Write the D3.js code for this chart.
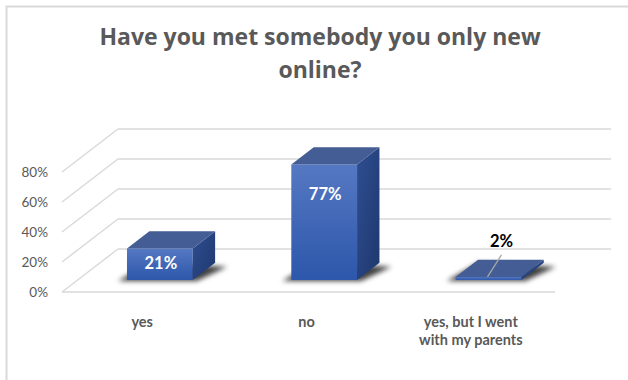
<!DOCTYPE html>
<html>
<head>
<meta charset="utf-8">
<script src="https://cdn.jsdelivr.net/npm/d3@7"></script>
<style>
  html, body { margin: 0; padding: 0; background: #fff; }
  svg { display: block; }
</style>
</head>
<body>
<svg id="chart" width="628" height="380"></svg>
<script>
// Survey answers and their shares (percent)
const categories = ["yes", "no", "yes, but I went with my parents"];
const values = [21, 77, 2];
const tickValues = [0, 20, 40, 60, 80];
const titleLines = ["Have you met somebody you only new", "online?"];

const svg = d3.select("#chart");
const textColor = "#595959";
const gridColor = "#d9d9d9";

// Outer frame
svg.append("path")
  .attr("d", "M6.5,380 L6.5,6.5 L628,6.5")
  .attr("fill", "none").attr("stroke", gridColor).attr("stroke-width", 2);

// Oblique 3D frame: front floor edge and depth vector
const x0 = 62, x1 = 555, y0 = 292;
const DX = 56, DY = 43;          // full depth offset (right, up)
const t0 = 0.28, t1 = 0.68;      // bar depth extent within the floor

const x = d3.scaleBand().domain(categories).range([x0, x1])
  .paddingInner(0.6).paddingOuter(0.3);
const y = d3.scaleLinear().domain([0, 80]).range([y0, y0 - 120]);

const defs = svg.append("defs");
const fg = defs.append("linearGradient").attr("id", "frontGrad")
  .attr("x1", 0).attr("y1", 0).attr("x2", 0).attr("y2", 1);
fg.append("stop").attr("offset", "0%").attr("stop-color", "#5578c2");
fg.append("stop").attr("offset", "100%").attr("stop-color", "#2d57ab");
const sg = defs.append("linearGradient").attr("id", "sideGrad")
  .attr("x1", 0).attr("y1", 0).attr("x2", 1).attr("y2", 1);
sg.append("stop").attr("offset", "0%").attr("stop-color", "#2f4f92");
sg.append("stop").attr("offset", "100%").attr("stop-color", "#1e376d");
defs.append("filter").attr("id", "soft")
  .attr("x", "-30%").attr("y", "-60%").attr("width", "160%").attr("height", "220%")
  .append("feGaussianBlur").attr("stdDeviation", 2.6);

// Grid: back wall lines, left wall diagonals, front floor edge
const grid = svg.append("g").attr("stroke", gridColor).attr("stroke-width", 1.4).attr("fill", "none");
grid.selectAll("line.back").data(tickValues).join("line")
  .attr("x1", x0 + DX).attr("x2", x1 + DX)
  .attr("y1", d => y(d) - DY).attr("y2", d => y(d) - DY);
grid.selectAll("line.side").data(tickValues).join("line")
  .attr("x1", x0).attr("y1", d => y(d))
  .attr("x2", x0 + DX).attr("y2", d => y(d) - DY);
grid.append("line").attr("x1", x0).attr("x2", x1).attr("y1", y0).attr("y2", y0);

// Value axis labels
svg.append("g").selectAll("text").data(tickValues).join("text")
  .attr("x", 48).attr("y", d => y(d) + 5)
  .attr("text-anchor", "end")
  .attr("font-family", "Lato, 'Open Sans', sans-serif")
  .attr("font-size", 13.5).attr("fill", textColor)
  .text(d => d + "%");

const data = categories.map((c, i) => ({ c, v: values[i] }));
const bw = x.bandwidth();
const ddx = DX * (t1 - t0), ddy = DY * (t1 - t0);
const geo = d => {
  const xf0 = x(d.c) + DX * t0, xf1 = xf0 + bw;
  const yb = y0 - DY * t0, yt = y(d.v) - DY * t0;
  return { xf0, xf1, yb, yt };
};

// Soft shadows on the floor under each bar
svg.append("g").selectAll("path").data(data).join("path")
  .attr("filter", "url(#soft)")
  .attr("fill", "#000").attr("fill-opacity", 0.75)
  .attr("d", d => {
    const g = geo(d);
    return `M${g.xf0 - 9},${g.yb + 1} L${g.xf1 + 4},${g.yb + 1} L${g.xf1 + ddx + 12},${g.yb - ddy + 4} L${g.xf0 + ddx},${g.yb - ddy} Z`;
  });

// Bars: front face, side face, top face
const bars = svg.append("g").selectAll("g").data(data).join("g");
bars.append("rect")
  .attr("x", d => geo(d).xf0).attr("y", d => geo(d).yt)
  .attr("width", bw).attr("height", d => geo(d).yb - geo(d).yt)
  .attr("fill", "url(#frontGrad)");
bars.append("path").attr("fill", "url(#sideGrad)")
  .attr("d", d => {
    const g = geo(d);
    return `M${g.xf1},${g.yt} L${g.xf1 + ddx},${g.yt - ddy} L${g.xf1 + ddx},${g.yb - ddy} L${g.xf1},${g.yb} Z`;
  });
bars.append("path").attr("fill", "#445d94")
  .attr("d", d => {
    const g = geo(d);
    return `M${g.xf0},${g.yt} L${g.xf1},${g.yt} L${g.xf1 + ddx},${g.yt - ddy} L${g.xf0 + ddx},${g.yt - ddy} Z`;
  });

// Value labels: inside tall bars, above with a leader line for tiny ones
const labelFont = "Lato, 'Open Sans', sans-serif";
data.forEach(d => {
  const g = geo(d);
  const cx = (g.xf0 + g.xf1) / 2;
  if (d.v >= 10) {
    const by = Math.min((g.yt + g.yb) / 2 + 5, g.yt + 36);
    svg.append("text").attr("x", cx + 1).attr("y", by)
      .attr("text-anchor", "middle").attr("font-family", labelFont)
      .attr("font-weight", "bold").attr("font-size", 16.5).attr("fill", "#fff")
      .text(d.v + "%");
  } else {
    const lx = cx + 13, ly = g.yt - 30;
    svg.append("line")
      .attr("x1", cx - 1).attr("y1", g.yt)
      .attr("x2", lx).attr("y2", ly + 8)
      .attr("stroke", "#a6a6a6").attr("stroke-width", 1.3);
    svg.append("text").attr("x", lx).attr("y", ly)
      .attr("text-anchor", "middle").attr("font-family", labelFont)
      .attr("font-weight", "bold").attr("font-size", 16.5).attr("fill", "#000")
      .text(d.v + "%");
  }
});

// Category labels, wrapped to two lines when long
const catLines = {
  "yes": ["yes"],
  "no": ["no"],
  "yes, but I went with my parents": ["yes, but I went", "with my parents"]
};
svg.append("g").selectAll("text").data(categories).join("text")
  .attr("x", d => x(d) + bw / 2 - 2)
  .attr("y", 327)
  .attr("text-anchor", "middle")
  .attr("font-family", labelFont).attr("font-weight", "bold")
  .attr("font-size", 14.5).attr("fill", textColor)
  .each(function (d) {
    const t = d3.select(this);
    catLines[d].forEach((line, i) => {
      t.append("tspan").attr("x", x(d) + bw / 2 - 2).attr("dy", i === 0 ? 0 : 18).text(line);
    });
  });

// Title
svg.append("g").selectAll("text").data(titleLines).join("text")
  .attr("x", 320).attr("y", (d, i) => 45 + i * 33)
  .attr("text-anchor", "middle")
  .attr("font-family", "'Open Sans', Lato, sans-serif").attr("font-weight", "bold")
  .attr("font-size", 23).attr("fill", textColor)
  .text(d => d);
</script>
</body>
</html>
